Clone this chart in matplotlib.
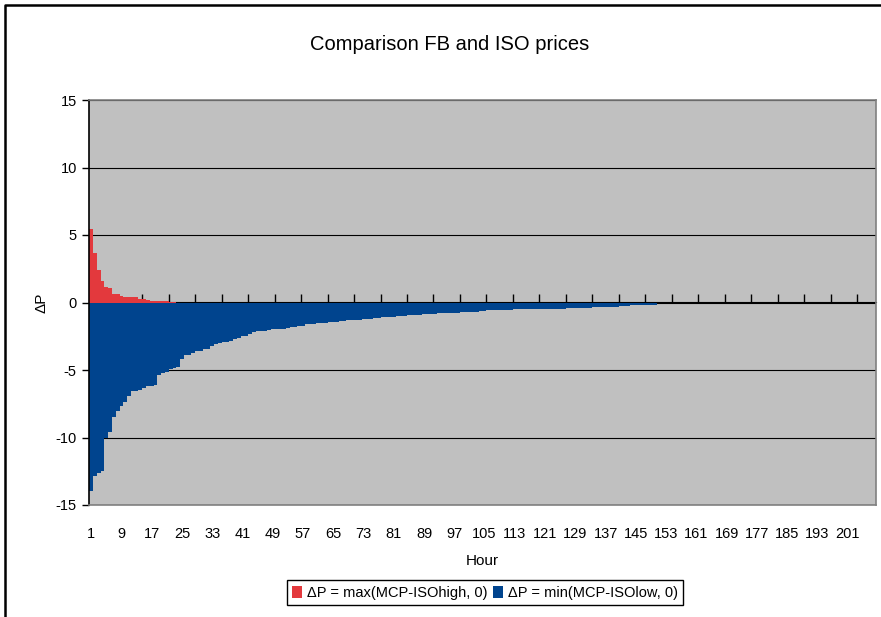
import matplotlib
matplotlib.use("Agg")
import matplotlib.pyplot as plt
from matplotlib.lines import Line2D

# --- data ---
hours = list(range(1, 209))

dp_high = [
    5.44, 3.66, 2.40, 1.58, 1.14, 1.06, 0.62, 0.62, 0.50, 0.44,
    0.44, 0.39, 0.39, 0.24, 0.24, 0.17, 0.12, 0.12, 0.12, 0.12,
    0.12, 0.05, 0.05, 0.0, 0.0, 0.0, 0.0, 0.0, 0.0, 0.0,
    0.0, 0.0, 0.0, 0.0, 0.0, 0.0, 0.0, 0.0, 0.0, 0.0,
    0.0, 0.0, 0.0, 0.0, 0.0, 0.0, 0.0, 0.0, 0.0, 0.0,
    0.0, 0.0, 0.0, 0.0, 0.0, 0.0, 0.0, 0.0, 0.0, 0.0,
    0.0, 0.0, 0.0, 0.0, 0.0, 0.0, 0.0, 0.0, 0.0, 0.0,
    0.0, 0.0, 0.0, 0.0, 0.0, 0.0, 0.0, 0.0, 0.0, 0.0,
    0.0, 0.0, 0.0, 0.0, 0.0, 0.0, 0.0, 0.0, 0.0, 0.0,
    0.0, 0.0, 0.0, 0.0, 0.0, 0.0, 0.0, 0.0, 0.0, 0.0,
    0.0, 0.0, 0.0, 0.0, 0.0, 0.0, 0.0, 0.0, 0.0, 0.0,
    0.0, 0.0, 0.0, 0.0, 0.0, 0.0, 0.0, 0.0, 0.0, 0.0,
    0.0, 0.0, 0.0, 0.0, 0.0, 0.0, 0.0, 0.0, 0.0, 0.0,
    0.0, 0.0, 0.0, 0.0, 0.0, 0.0, 0.0, 0.0, 0.0, 0.0,
    0.0, 0.0, 0.0, 0.0, 0.0, 0.0, 0.0, 0.0, 0.0, 0.0,
    0.0, 0.0, 0.0, 0.0, 0.0, 0.0, 0.0, 0.0, 0.0, 0.0,
    0.0, 0.0, 0.0, 0.0, 0.0, 0.0, 0.0, 0.0, 0.0, 0.0,
    0.0, 0.0, 0.0, 0.0, 0.0, 0.0, 0.0, 0.0, 0.0, 0.0,
    0.0, 0.0, 0.0, 0.0, 0.0, 0.0, 0.0, 0.0, 0.0, 0.0,
    0.0, 0.0, 0.0, 0.0, 0.0, 0.0, 0.0, 0.0, 0.0, 0.0,
    0.0, 0.0, 0.0, 0.0, 0.0, 0.0, 0.0, 0.0,
]

dp_low = [
    -13.95, -12.87, -12.62, -12.50, -10.07, -9.60, -8.50, -8.05, -7.68, -7.36,
    -6.94, -6.57, -6.57, -6.50, -6.35, -6.18, -6.18, -6.10, -5.39, -5.24,
    -5.16, -4.94, -4.87, -4.80, -4.17, -3.90, -3.90, -3.76, -3.60, -3.60,
    -3.46, -3.46, -3.24, -3.10, -3.01, -2.94, -2.94, -2.87, -2.72, -2.64,
    -2.50, -2.50, -2.35, -2.20, -2.13, -2.13, -2.13, -2.05, -1.97, -1.97,
    -1.97, -1.97, -1.91, -1.83, -1.83, -1.73, -1.73, -1.61, -1.61, -1.61,
    -1.54, -1.54, -1.54, -1.46, -1.46, -1.46, -1.39, -1.39, -1.31, -1.31,
    -1.31, -1.31, -1.24, -1.24, -1.24, -1.17, -1.17, -1.09, -1.09, -1.09,
    -1.09, -1.02, -1.02, -1.02, -0.94, -0.94, -0.94, -0.94, -0.87, -0.87,
    -0.87, -0.87, -0.79, -0.79, -0.79, -0.79, -0.79, -0.79, -0.70, -0.70,
    -0.70, -0.70, -0.70, -0.63, -0.63, -0.57, -0.57, -0.57, -0.57, -0.57,
    -0.57, -0.57, -0.50, -0.50, -0.50, -0.50, -0.50, -0.50, -0.50, -0.45,
    -0.45, -0.45, -0.45, -0.45, -0.45, -0.45, -0.40, -0.40, -0.40, -0.40,
    -0.40, -0.40, -0.40, -0.33, -0.33, -0.33, -0.33, -0.33, -0.33, -0.33,
    -0.28, -0.28, -0.28, -0.22, -0.22, -0.22, -0.22, -0.17, -0.17, -0.17,
    -0.04, -0.04, -0.04, -0.04, -0.04, -0.04, -0.04, -0.04, -0.04, -0.04,
    -0.04, -0.04, -0.04, -0.04, -0.04, -0.04, -0.04, -0.04, -0.04, -0.04,
    -0.04, -0.04, -0.04, -0.04, -0.04, -0.04, -0.04, -0.04, -0.04, -0.04,
    -0.03, -0.03, -0.03, -0.03, -0.03, 0.0, 0.0, 0.0, 0.0, 0.0,
    0.0, 0.0, 0.0, 0.0, 0.0, 0.0, 0.0, 0.0, 0.0, 0.0,
    0.0, 0.0, 0.0, 0.0, 0.0, 0.0, 0.0, 0.0,
]

x_labels = ["1", "9", "17", "25", "33", "41", "49", "57", "65", "73", "81", "89", "97",
            "105", "113", "121", "129", "137", "145", "153", "161", "169", "177", "185",
            "193", "201"]
y_ticks = [-15, -10, -5, 0, 5, 10, 15]

label_high = "ΔP = max(MCP-ISOhigh, 0)"
label_low = "ΔP = min(MCP-ISOlow, 0)"

# --- styling ---
RED = "#E3393D"
BLUE = "#00448E"
PLOT_BG = "#C0C0C0"

plt.rcParams["font.family"] = ["Liberation Sans", "DejaVu Sans"]
plt.rcParams["font.size"] = 10

fig = plt.figure(figsize=(8.81, 6.17), dpi=100)
ax = fig.add_axes([89.3 / 881, 1 - 505 / 617, (876 - 89.3) / 881, 405 / 617])
ax.set_facecolor(PLOT_BG)

b1 = ax.bar(hours, dp_high, width=1.0, color=RED, linewidth=0, label=label_high)
b2 = ax.bar(hours, dp_low, width=1.0, color=BLUE, linewidth=0, label=label_low)

ax.set_xlim(0.5, len(hours) + 0.5)
ax.set_ylim(-15, 15)
ax.set_yticks(y_ticks)
ax.set_yticklabels([str(v) for v in y_ticks])
ax.set_xticks([int(s) for s in x_labels])
ax.set_xticklabels(x_labels)

ax.set_axisbelow(True)
ax.yaxis.grid(True, color="black", linewidth=0.8)
ax.tick_params(axis="x", length=0, pad=16, labelsize=10.5)
ax.tick_params(axis="y", length=5, width=1, direction="out", pad=4, labelsize=10.5)

for side in ("top", "right", "bottom"):
    ax.spines[side].set_color("#808080")
    ax.spines[side].set_linewidth(1.2)
ax.spines["left"].set_color("black")
ax.spines["left"].set_linewidth(1.2)

# category axis crossing at zero, with tick marks every 7 hours
zero_ticks = [h + 0.5 for h in hours if h % 7 == 0]
zero_ax = ax.secondary_xaxis(0.5)
zero_ax.set_xticks(zero_ticks, labels=["" for _ in zero_ticks])
zero_ax.tick_params(length=6, width=1, direction="out", color="black")
zero_ax.spines["bottom"].set_color("#303030")
zero_ax.spines["bottom"].set_linewidth(1.5)

ax.set_xlabel("Hour", fontsize=11, labelpad=9)
ax.set_ylabel("ΔP", fontsize=11, labelpad=5)
fig.text(450 / 881, 1 - 44 / 617, "Comparison FB and ISO prices",
         ha="center", va="center", fontsize=14.5)

fig.legend(handles=[b1, b2], loc="lower center", bbox_to_anchor=(485 / 881, 0.008),
           ncol=2, frameon=True, fancybox=False, edgecolor="black", framealpha=1,
           handlelength=0.7, handleheight=0.9, handletextpad=0.3, columnspacing=0.4,
           borderpad=0.35, fontsize=10.5)

# chart-area border (only left and top edges fall inside the picture)
fig.add_artist(Line2D([5 / 881, 5 / 881, 1.0], [0.0, 1 - 5 / 617, 1 - 5 / 617],
                      transform=fig.transFigure, color="black", linewidth=1.8))

fig.savefig("out.png", dpi=100)
